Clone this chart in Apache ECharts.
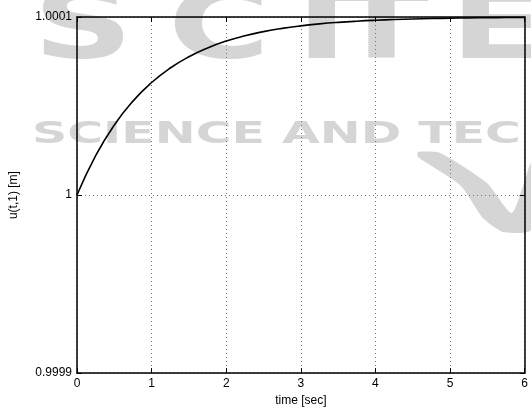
<!DOCTYPE html>
<html>
<head>
<meta charset="utf-8">
<script src="https://cdn.jsdelivr.net/npm/echarts@6/dist/echarts.min.js"></script>
<style>
html,body{margin:0;padding:0;background:#fff;}
#c{width:531px;height:412px;}
</style>
</head>
<body>
<div id="c"></div>
<script>
// Data
var times = [0, 0.25, 0.5, 0.75, 1, 1.25, 1.5, 1.75, 2, 2.25, 2.5, 2.75, 3, 3.25, 3.5, 3.75, 4, 4.25, 4.5, 4.75, 5, 5.25, 5.5, 5.75, 6];
var uValues = [1.0, 1.00002212, 1.00003935, 1.00005276, 1.00006321, 1.00007135, 1.00007769, 1.00008262, 1.00008647, 1.00008946, 1.00009179, 1.00009361, 1.00009502, 1.00009612, 1.00009698, 1.00009765, 1.00009817, 1.00009857, 1.00009889, 1.00009913, 1.00009933, 1.00009948, 1.00009959, 1.00009968, 1.00009975];
var xTicks = [0, 1, 2, 3, 4, 5, 6];
var yTickLabels = ['0.9999', '1', '1.0001'];
var xName = 'time [sec]';
var yName = 'u(t,1) [m]';

var chart = echarts.init(document.getElementById('c'), null, {renderer: 'canvas'});
var pts = times.map(function (t, i) { return [t, uValues[i]]; });
var font = 'Liberation Sans, Arial, Helvetica, sans-serif';
var wm = '#d5d5d5';

function bigLetter(ch, x) {
  return {type: 'text', z: -1, x: x, y: 33, scaleX: 1.45, scaleY: 1,
    style: {text: ch, fill: wm, font: 'bold 96px "DejaVu Sans"', textVerticalAlign: 'middle', textAlign: 'left'}};
}

var option = {
  backgroundColor: '#ffffff',
  animation: false,
  grid: {left: 73, right: 2, top: 17, bottom: 35, containLabel: false},
  graphic: [
    bigLetter('S', 33), bigLetter('C', 168), bigLetter('I', 296), bigLetter('T', 334), bigLetter('E', 450),
    {type: 'text', z: -1, x: 32, y: 135, scaleX: 1.63, scaleY: 1,
     style: {text: 'SCIENCE AND TEC', fill: wm, font: 'bold 30px "DejaVu Sans"', textVerticalAlign: 'middle', textAlign: 'left'}},
    {type: 'polygon', z: -1,
     shape: {points: [[418, 152], [440, 153], [487, 183], [512, 213], [531, 163], [531, 230], [503, 232], [483, 218], [460, 185], [418, 157]], smooth: 0.2},
     style: {fill: wm}}
  ],
  xAxis: [{
    type: 'value', min: 0, max: 6, interval: 1,
    name: xName, nameLocation: 'middle', nameGap: 17,
    nameTextStyle: {color: '#000', fontSize: 12, fontFamily: font},
    axisLine: {show: true, onZero: false, lineStyle: {color: '#000', width: 1.5}},
    axisTick: {show: true, inside: true, length: 5, lineStyle: {color: '#000', width: 1}},
    axisLabel: {color: '#000', fontSize: 12, fontFamily: font, margin: 5,
      formatter: function (v) { return xTicks.indexOf(v) >= 0 ? String(v) : ''; }},
    splitLine: {show: true, lineStyle: {color: '#777', width: 1, type: [1, 3]}}
  }, {
    type: 'value', min: 0, max: 6, interval: 1, position: 'top',
    axisLine: {show: true, onZero: false, lineStyle: {color: '#000', width: 1.5}},
    axisTick: {show: true, inside: true, length: 5, lineStyle: {color: '#000', width: 1}},
    axisLabel: {show: false}, splitLine: {show: false}
  }],
  yAxis: [{
    type: 'value', min: 0.9999, max: 1.0001, interval: 0.0001,
    name: yName, nameLocation: 'middle', nameGap: 57, nameRotate: 90,
    nameTextStyle: {color: '#000', fontSize: 12, fontFamily: font},
    axisLine: {show: true, onZero: false, lineStyle: {color: '#000', width: 1.5}},
    axisTick: {show: true, inside: true, length: 5, lineStyle: {color: '#000', width: 1}},
    axisLabel: {color: '#000', fontSize: 12, fontFamily: font, margin: 5,
      formatter: function (v) {
        var idx = Math.round((v - 0.9999) / 0.0001);
        return yTickLabels[idx] !== undefined ? yTickLabels[idx] : '';
      }},
    splitLine: {show: true, lineStyle: {color: '#777', width: 1, type: [1, 3]}}
  }, {
    type: 'value', min: 0.9999, max: 1.0001, interval: 0.0001, position: 'right',
    axisLine: {show: true, onZero: false, lineStyle: {color: '#000', width: 1.5}},
    axisTick: {show: true, inside: true, length: 5, lineStyle: {color: '#000', width: 1}},
    axisLabel: {show: false}, splitLine: {show: false}
  }],
  series: [{
    type: 'line', data: pts, smooth: true, showSymbol: false, symbol: 'none',
    xAxisIndex: 0, yAxisIndex: 0,
    lineStyle: {color: '#000', width: 1.6}, z: 5
  }]
};
chart.setOption(option);
</script>
</body>
</html>
